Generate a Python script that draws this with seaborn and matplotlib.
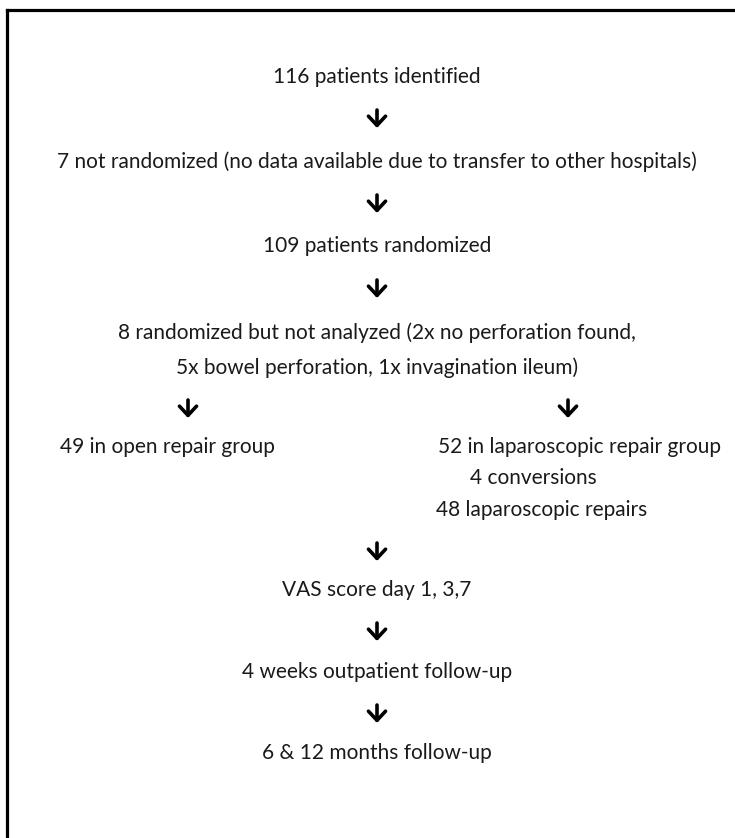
import matplotlib
matplotlib.use('Agg')
import matplotlib.pyplot as plt
import seaborn as sns

# flow chart texts
main_steps = ['116 patients identified',
              '7 not randomized (no data available due to transfer to other hospitals)',
              '109 patients randomized',
              '8 randomized but not analyzed (2x no perforation found,',
              '5x bowel perforation, 1x invagination ileum)']
open_arm = ['49 in open repair group']
lap_arm = ['52 in laparoscopic repair group', '4 conversions', '48 laparoscopic repairs']
followup = ['VAS score day 1, 3,7', '4 weeks outpatient follow-up', '6 & 12 months follow-up']

sns.set_style('white')
plt.rcParams['font.family'] = ['Lato', 'DejaVu Sans']

W, H = 735, 838
fig = plt.figure(figsize=(W / 100, H / 100), dpi=100)

# frame: only top and left lines are visible in the crop
frame = fig.add_axes([7.5 / W, -0.2, 1.3, 1.2 - 10 / H])
frame.set_xticks([])
frame.set_yticks([])
sns.despine(ax=frame, right=True, bottom=True, top=False, left=False)
for s in ['top', 'left']:
    frame.spines[s].set_linewidth(2.3)
    frame.spines[s].set_color('black')

ax = fig.add_axes([0, 0, 1, 1])
ax.set_xlim(0, W)
ax.set_ylim(H, 0)
ax.axis('off')

txt = dict(fontsize=15, color='#1a1a1a', va='center')
cx = 377


def arrow(x, y):
    ax.annotate('', xy=(x, y + 8), xytext=(x, y - 10),
                arrowprops=dict(arrowstyle='->, head_length=0.3, head_width=0.28',
                                lw=2.6, color='black', mutation_scale=22,
                                shrinkA=0, shrinkB=0))


main_y = [77, 162, 246, 333, 368]
for label, y in zip(main_steps, main_y):
    ax.text(cx, y, label, ha='center', **txt)
for y in [120, 205, 290]:
    arrow(cx, y)

# branches
arrow(188, 410)
arrow(568, 410)
for label, y in zip(open_arm, [447]):
    ax.text(60, y, label, ha='left', **txt)
for label, y, x in zip(lap_arm, [447, 478, 510], [438, 470, 436]):
    ax.text(x, y, label, ha='left', **txt)

follow_y = [590, 672, 753]
for label, y in zip(followup, follow_y):
    ax.text(cx, y, label, ha='center', **txt)
for y in [553, 633, 715]:
    arrow(cx, y)

fig.savefig('out.png', dpi=100)
